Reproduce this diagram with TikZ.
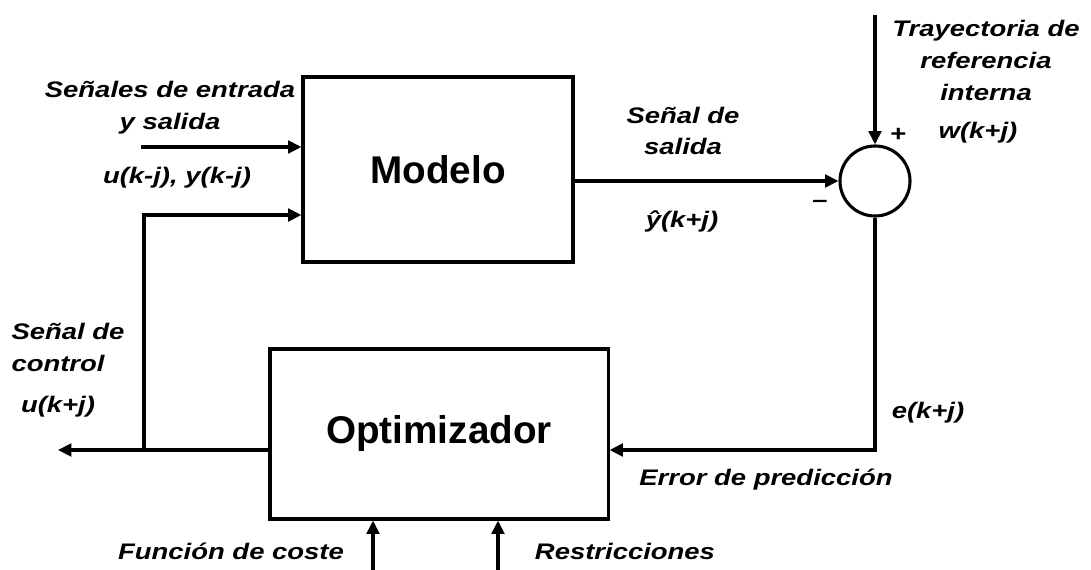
\documentclass[tikz,border=0pt]{standalone}
\usepackage{fontspec}
\setmainfont{Liberation Sans}
\newfontfamily\etiqfont[FakeStretch=1.22]{Liberation Sans}
\usetikzlibrary{arrows.meta}
\begin{document}
\begin{tikzpicture}[x=0.025cm, y=-0.025cm, line width=2.2pt,
  >={Triangle[length=9.5pt,width=9pt]},
  bloque/.style={draw, rectangle, font=\fontsize{27.5}{32}\selectfont\bfseries},
  etiq/.style={font=\etiqfont\fontsize{16}{22.5}\selectfont\bfseries\itshape, align=center, inner sep=0pt},
  suma/.style={draw, circle, minimum size=1.75cm, inner sep=0pt}]
  \useasboundingbox (0,0) rectangle (1091,570);
  % bloques
  \node[bloque, minimum width=6.75cm, minimum height=4.625cm] (modelo) at (438,169.5) {Modelo};
  \node[bloque, minimum width=8.45cm, minimum height=4.25cm] (optim) at (439,434) {Optimizador};
  \node[suma] (sum) at (875,181) {};
  % puntos
  \coordinate (ref) at (875,15);
  \coordinate (ent) at (141,147);
  \coordinate (rama) at (144,450);
  \coordinate (ctrl) at (215,215);
  \coordinate (sal) at (58,450);
  \coordinate (err) at (875,450);
  \coordinate (coste) at (373,570);
  \coordinate (restr) at (498,570);
  % conexiones
  \draw[->] (ref) -- (sum);
  \draw[->] (ent) -- (modelo.west |- ent);
  \draw[->] (modelo.east |- sum) -- (sum);
  \draw[->] (sum) -- (err) -- (optim.east |- err);
  \draw[->] (optim.west |- rama) -- (sal);
  \draw[->] (rama) |- (modelo.west |- ctrl);
  \draw[->] (coste) -- (optim.south -| coste);
  \draw[->] (restr) -- (optim.south -| restr);
  % etiquetas
  \node[etiq] (tent) at (170,107.5) {Señales de entrada\\y salida};
  \node[etiq] (vent) at (177,178) {u(k-j), y(k-j)};
  \node[etiq] (tsal) at (683,131) {Señal de\\salida};
  \node[etiq] (vsal) at (682,221) {\^y(k+j)};
  \node[etiq] (tref) at (986,60.5) {Trayectoria de\\referencia\\interna};
  \node[etiq] (vref) at (978,133) {w(k+j)};
  \node[etiq] (mas) at (898,135) {+};
  \node[etiq] (menos) at (820,204) {\textendash};
  \node[etiq, align=left, anchor=west] (tctrl) at (10,347.5) {Señal de\\control};
  \node[etiq] (vctrl) at (58,407) {u(k+j)};
  \node[etiq] (verr) at (928,413) {e(k+j)};
  \node[etiq] (terr) at (766,480) {Error de predicción};
  \node[etiq] (tcoste) at (231,551) {Función de coste};
  \node[etiq] (trestr) at (625,551) {Restricciones};
\end{tikzpicture}
\end{document}
